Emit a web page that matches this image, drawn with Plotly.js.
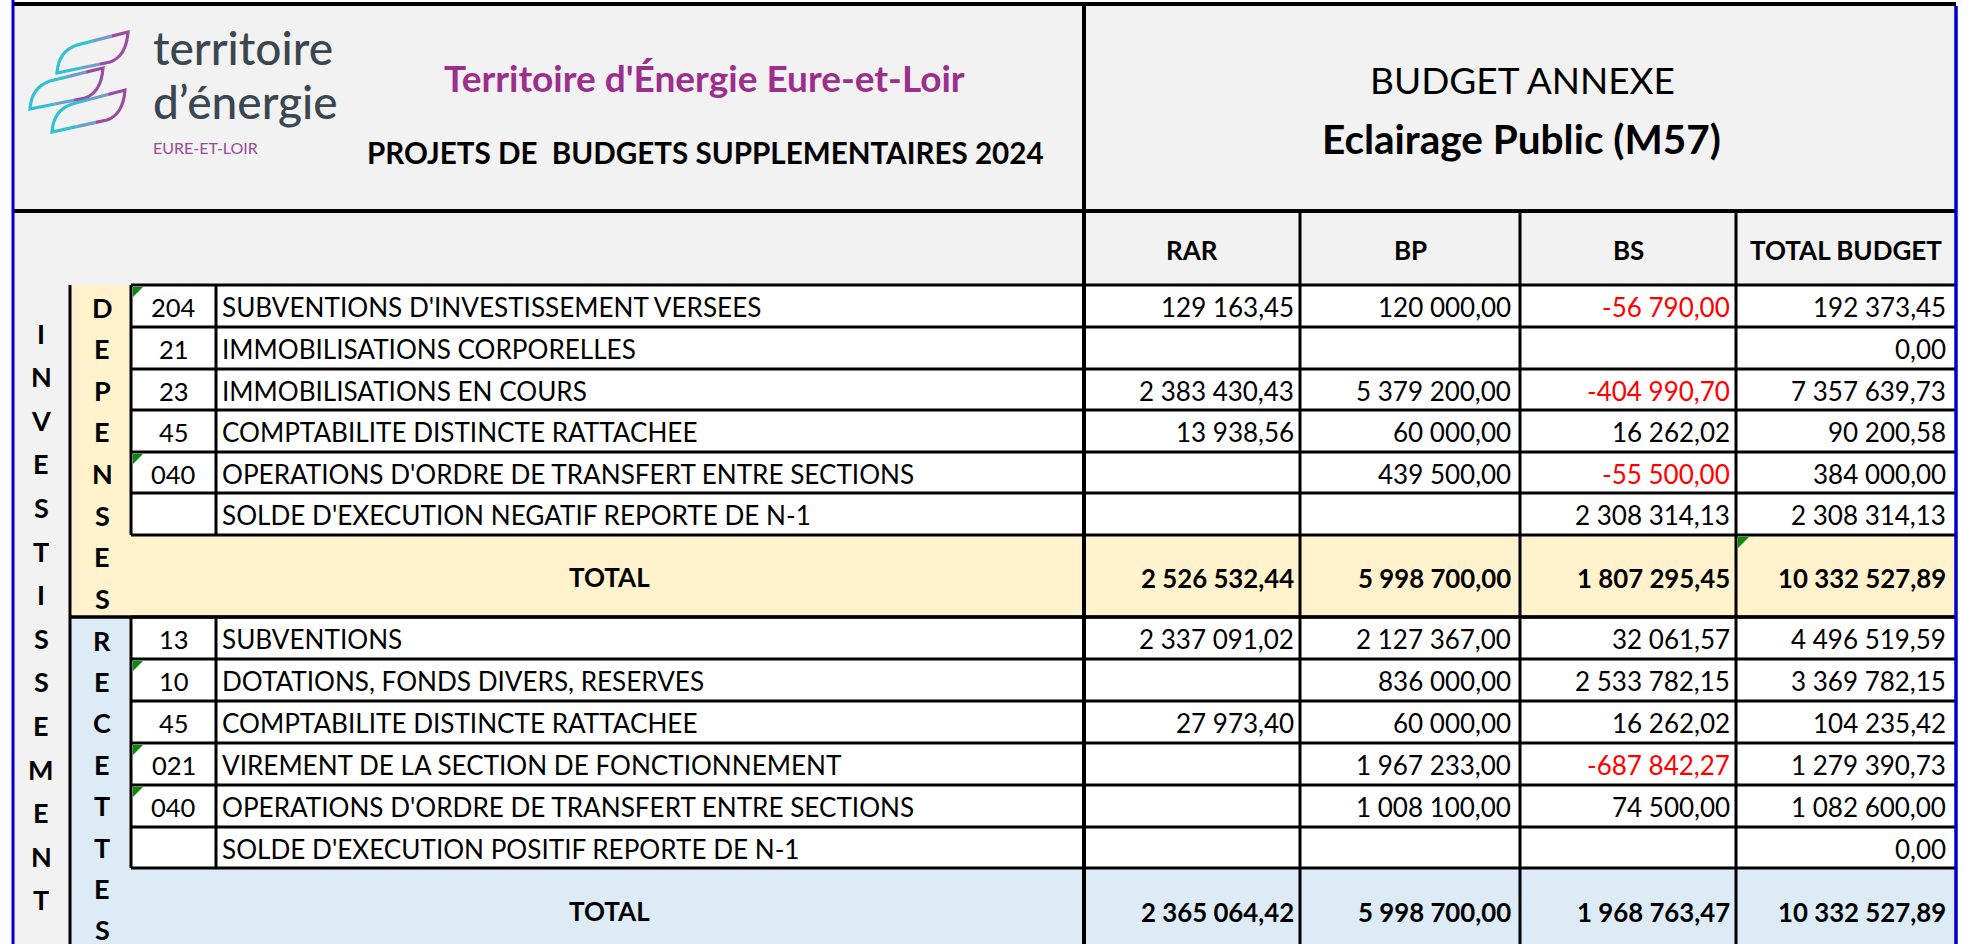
<!DOCTYPE html>
<html>
<head>
<meta charset="utf-8">
<script src="https://cdn.plot.ly/plotly-3.0.1.min.js"></script>
<style>
html,body{margin:0;padding:0;background:#fff;}
#chart{width:1972px;height:944px;}
</style>
</head>
<body>
<div id="chart"></div>
<script>
// ---------- DATA ----------
const headerOrg = "Territoire d'Énergie Eure-et-Loir";
const headerProject = "PROJETS DE\u00a0 BUDGETS SUPPLEMENTAIRES 2024";
const headerBudget = "BUDGET ANNEXE";
const headerBudgetName = "Eclairage Public (M57)";
const logoWords = ["territoire", "d’énergie", "EURE-ET-LOIR"];
const colHeaders = ["RAR", "BP", "BS", "TOTAL BUDGET"];
const sectionLabel = "INVESTISSEMENT";
const depLabel = "DEPENSES";
const recLabel = "RECETTES";
const totalLabel = "TOTAL";

const depCodes = ["204", "21", "23", "45", "040", ""];
const depLabels = [
  "SUBVENTIONS D'INVESTISSEMENT VERSEES",
  "IMMOBILISATIONS CORPORELLES",
  "IMMOBILISATIONS EN COURS",
  "COMPTABILITE DISTINCTE RATTACHEE",
  "OPERATIONS D'ORDRE DE TRANSFERT ENTRE SECTIONS",
  "SOLDE D'EXECUTION NEGATIF REPORTE DE N-1"
];
const depRAR   = [129163.45, null, 2383430.43, 13938.56, null, null];
const depBP    = [120000.00, null, 5379200.00, 60000.00, 439500.00, null];
const depBS    = [-56790.00, null, -404990.70, 16262.02, -55500.00, 2308314.13];
const depTOTAL = [192373.45, 0.00, 7357639.73, 90200.58, 384000.00, 2308314.13];
const depSums  = [2526532.44, 5998700.00, 1807295.45, 10332527.89];
const depFlags = [true, false, false, false, true, false];

const recCodes = ["13", "10", "45", "021", "040", ""];
const recLabels = [
  "SUBVENTIONS",
  "DOTATIONS, FONDS DIVERS, RESERVES",
  "COMPTABILITE DISTINCTE RATTACHEE",
  "VIREMENT DE LA SECTION DE FONCTIONNEMENT",
  "OPERATIONS D'ORDRE DE TRANSFERT ENTRE SECTIONS",
  "SOLDE D'EXECUTION POSITIF REPORTE DE N-1"
];
const recRAR   = [2337091.02, null, 27973.40, null, null, null];
const recBP    = [2127367.00, 836000.00, 60000.00, 1967233.00, 1008100.00, null];
const recBS    = [32061.57, 2533782.15, 16262.02, -687842.27, 74500.00, null];
const recTOTAL = [4496519.59, 3369782.15, 104235.42, 1279390.73, 1082600.00, 0.00];
const recSums  = [2365064.42, 5998700.00, 1968763.47, 10332527.89];
const recFlags = [false, true, false, true, true, false];

// ---------- LAYOUT GEOMETRY (pixel-like axis units) ----------
const W = 1972, H = 944;
const xL = 13, xLet = 70, xCode = 131, xLab = 216;
const colEdges = [1084, 1300, 1520, 1736, 1956];
const colRight = [1295, 1512, 1731, 1947];
const yTop = 4, yHead = 211, yColH = 285;
const depRows = [285, 327, 369, 410, 452, 493, 535];
const depTotBottom = 617;
const recRows = [617, 659, 701, 743, 785, 827, 868];
const yBottom = 970;

const FONT = 'Lato, "Open Sans", sans-serif';
const GRAY = '#f2f2f2', CREAM = '#fff2cc', LBLUE = '#ddebf7';
const RED = '#ff0000', GREEN = '#0a8a0a', BLUE = '#0000cc';

function fmt(v) {
  const neg = v < 0;
  const s = Math.abs(v).toFixed(2).split('.');
  const i = s[0].replace(/\B(?=(\d{3})+(?!\d))/g, ' ');
  return (neg ? '-' : '') + i + ',' + s[1];
}

const shapes = [];
function rect(x0, y0, x1, y1, fill) {
  shapes.push({type: 'rect', xref: 'x', yref: 'y', x0, y0, x1, y1, fillcolor: fill, line: {width: 0}});
}
function seg(x0, y0, x1, y1, w, c) {
  shapes.push({type: 'line', xref: 'x', yref: 'y', x0, y0, x1, y1, line: {color: c || '#000', width: w || 3}});
}
function pathShape(p, opts) {
  shapes.push(Object.assign({type: 'path', xref: 'x', yref: 'y', path: p}, opts));
}

// backgrounds
rect(xL, yTop, colEdges[4], yColH, GRAY);
rect(xL, yColH, xLet, yBottom, GRAY);
rect(xLet, yColH, xCode, depTotBottom, CREAM);
rect(xCode, depRows[6], colEdges[4], depTotBottom, CREAM);
rect(xLet, depTotBottom, xCode, yBottom, LBLUE);
rect(xCode, recRows[6], colEdges[4], yBottom, LBLUE);
rect(xCode, depRows[0], colEdges[4], depRows[6], '#ffffff');
rect(xCode, recRows[0], colEdges[4], recRows[6], '#ffffff');

// horizontal lines
seg(xL, yTop, colEdges[4], yTop, 4);
seg(xL, yHead, colEdges[4], yHead, 4);
depRows.forEach(y => seg(xCode, y, colEdges[4], y, 3));
seg(xLet, depTotBottom, colEdges[4], depTotBottom, 3.5);
recRows.forEach(y => seg(xCode, y, colEdges[4], y, 3));

// vertical lines
seg(colEdges[0], yTop, colEdges[0], yBottom, 4);
for (let j = 1; j < 4; j++) seg(colEdges[j], yHead, colEdges[j], yBottom, 3);
seg(xLet, yColH, xLet, yBottom, 3);
seg(xCode, depRows[0], xCode, depRows[6], 3);
seg(xLab, depRows[0], xLab, depRows[6], 3);
seg(xCode, recRows[0], xCode, recRows[6], 3);
seg(xLab, recRows[0], xLab, recRows[6], 3);
// blue outer borders
seg(xL, 0, xL, yBottom, 3, BLUE);
seg(colEdges[4], 6, colEdges[4], yBottom, 3.5, BLUE);

// green indicator triangles
function tri(x, y, s) {
  pathShape(`M${x},${y} L${x + s},${y} L${x},${y + s} Z`, {fillcolor: GREEN, line: {width: 0}});
}
depFlags.forEach((f, i) => { if (f) tri(xCode + 2, depRows[i] + 2, 10); });
recFlags.forEach((f, i) => { if (f) tri(xCode + 2, recRows[i] + 2, 10); });
tri(colEdges[3] + 2, depRows[6] + 2, 11);

// logo leaves (gradient approximated by three strokes)
function leaf(bx, by, tx, ty) {
  const U = [bx + 20, by - 28], c1 = [bx + 1, by - 15], c2 = [bx + 8, by - 24];
  const c3 = [tx - 1, ty + 13], c4 = [tx - 6, ty + 26], Lp = [tx - 18, ty + 30];
  const lerp = (a, b, t) => [a[0] + (b[0] - a[0]) * t, a[1] + (b[1] - a[1]) * t];
  const T = [tx, ty], B = [bx, by];
  const u1 = lerp(U, T, 0.3), u2 = lerp(U, T, 0.68);
  const l1 = lerp(B, Lp, 0.45), l2 = lerp(B, Lp, 0.8);
  const P = p => p[0] + ',' + p[1];
  const st = c => ({line: {color: c, width: 3.2}, fillcolor: 'rgba(0,0,0,0)'});
  pathShape(`M${P(u1)} L${P(U)} C${P(c2)} ${P(c1)} ${P(B)} L${P(l1)}`, st('#30c2d2'));
  pathShape(`M${P(u1)} L${P(u2)} M${P(l1)} L${P(l2)}`, st('#6f9dcc'));
  pathShape(`M${P(u2)} L${P(T)} C${P(c3)} ${P(c4)} ${P(Lp)} L${P(l2)}`, st('#9a4ca4'));
}
leaf(57, 73, 128, 32);
leaf(30, 109, 103, 68);
leaf(52, 132, 125, 90);

// ---------- TEXT ----------
const annotations = [];
function ann(text, x, y, font, opts) {
  annotations.push(Object.assign({
    text: text, x: x, y: y, xref: 'x', yref: 'y', showarrow: false,
    xanchor: 'center', yanchor: 'middle', borderpad: 0,
    font: Object.assign({family: FONT, size: 26, color: '#000'}, font)
  }, opts || {}));
}

// logo words
ann(logoWords[0], 152, 47.5, {size: 46, color: '#3a4751', weight: 500}, {xanchor: 'left'});
ann(logoWords[1], 152, 101, {size: 46, color: '#3a4751', weight: 500}, {xanchor: 'left'});
ann(logoWords[2], 152, 147, {size: 16, color: '#9b4a97'}, {xanchor: 'left'});

// headers
ann(headerOrg, 704, 77, {size: 37, color: '#9c2f8c', weight: 'bold'});
ann(headerProject, 705, 152, {size: 29.6, weight: 'bold'});
ann(headerBudget, 1522, 79, {size: 37});
ann(headerBudgetName, 1521, 138, {size: 40.5, weight: 'bold'});

colHeaders.forEach((h, j) => ann(h, (colEdges[j] + colEdges[j + 1]) / 2, 250, {size: 26, weight: 'bold'}));

// vertical letters
sectionLabel.split('').forEach((c, k) => ann(c, 41, 333 + 43.6 * k, {size: 27, weight: 'bold'}));
depLabel.split('').forEach((c, k) => ann(c, 102, 307 + 41.6 * k, {size: 27, weight: 'bold'}));
recLabel.split('').forEach((c, k) => ann(c, 102, 640 + 41.4 * k, {size: 27, weight: 'bold'}));

function bodyRows(rows, codes, labels, cols) {
  for (let i = 0; i < codes.length; i++) {
    const yc = (rows[i] + rows[i + 1]) / 2 + 1;
    if (codes[i]) ann(codes[i], 173.5, yc, {size: 25.5});
    ann(labels[i], xLab + 5, yc, {size: 26.1}, {xanchor: 'left'});
    cols.forEach((arr, j) => {
      const v = arr[i];
      if (v !== null && v !== undefined) {
        ann(fmt(v), colRight[j], yc, {size: 26, color: v < 0 ? RED : '#000'}, {xanchor: 'right'});
      }
    });
  }
}
bodyRows(depRows, depCodes, depLabels, [depRAR, depBP, depBS, depTOTAL]);
bodyRows(recRows, recCodes, recLabels, [recRAR, recBP, recBS, recTOTAL]);

function totals(sums, yc) {
  ann(totalLabel, 609, yc, {size: 26, weight: 'bold'});
  sums.forEach((v, j) => ann(fmt(v), colRight[j], yc + 1, {size: 25.8, weight: 'bold', color: v < 0 ? RED : '#000'}, {xanchor: 'right'}));
}
totals(depSums, 577);
totals(recSums, 911);

const layout = {
  width: W, height: H,
  margin: {l: 0, r: 0, t: 0, b: 0, pad: 0},
  paper_bgcolor: '#ffffff', plot_bgcolor: '#ffffff',
  showlegend: false,
  xaxis: {range: [0, W], autorange: false, visible: false, fixedrange: true},
  yaxis: {range: [H, 0], autorange: false, visible: false, fixedrange: true},
  shapes: shapes,
  annotations: annotations
};
Plotly.newPlot('chart', [], layout, {staticPlot: true, displayModeBar: false});
</script>
</body>
</html>
